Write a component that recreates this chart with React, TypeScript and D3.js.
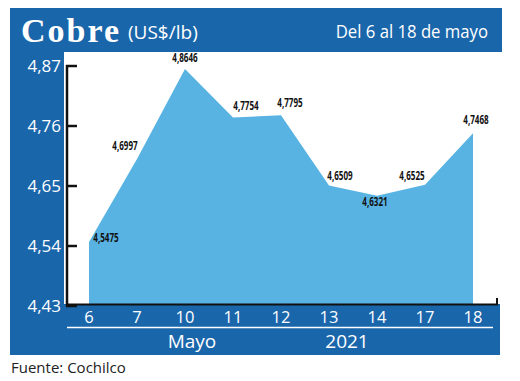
import React from "react";
import * as d3 from "d3";

const days = ["6", "7", "10", "11", "12", "13", "14", "17", "18"];
const prices = [4.5475, 4.6997, 4.8646, 4.7754, 4.7795, 4.6509, 4.6321, 4.6525, 4.7468];
const priceLabels = ["4,5475", "4,6997", "4,8646", "4,7754", "4,7795", "4,6509", "4,6321", "4,6525", "4,7468"];
const yTicks = [4.43, 4.54, 4.65, 4.76, 4.87];
const yTickLabels = ["4,43", "4,54", "4,65", "4,76", "4,87"];
const title = "Cobre";
const unit = "(US$/lb)";
const period = "Del 6 al 18 de mayo";
const monthLabel = "Mayo";
const yearLabel = "2021";
const source = "Fuente: Cochilco";

// layout-only label offsets (dx, dy) relative to each point
const labelOffsets: [number, number][] = [
  [17, 0], [-12, -9], [0, -7], [13, -8], [9, -8], [11, -6], [-2, 10], [-13, -5], [3, -9],
];

const BLUE = "#1a66ab";
const AREA = "#58b3e3";
const SANS = "'Open Sans', 'Noto Sans', sans-serif";

export default function App() {
  const W = 520, H = 381;
  const x = d3.scalePoint<string>().domain(days).range([89, 473]);
  const y = d3.scaleLinear().domain([4.43, 4.87]).range([306, 66]);
  const area = d3
    .area<number>()
    .x((_, i) => x(days[i]) as number)
    .y0(y(4.43))
    .y1((d) => y(d));

  return (
    <svg width={W} height={H} style={{ position: "absolute", left: 0, top: 0 }}>
      <rect x={0} y={0} width={W} height={H} fill="#fff" />
      {/* header band */}
      <rect x={10} y={8} width={492} height={44} fill={BLUE} />
      {/* left band */}
      <rect x={10} y={8} width={54} height={347} fill={BLUE} />
      <text x={21} y={42} fill="#fff" fontFamily="'Liberation Serif', 'DejaVu Serif', serif" fontWeight="bold" fontSize={34} letterSpacing={2}>
        {title}
      </text>
      <text x={128} y={39} fill="#fff" fontFamily={SANS} fontSize={19}>
        {unit}
      </text>
      <g transform="translate(488,38) scale(0.88,1)">
        <text x={0} y={0} fill="#fff" fontFamily={SANS} fontSize={19} textAnchor="end">
          {period}
        </text>
      </g>

      {/* area */}
      <path d={area(prices) || ""} fill={AREA} />

      {/* bottom band */}
      <rect x={10} y={304} width={490} height={51} fill={BLUE} />

      {/* axes */}
      <line x1={67} x2={67} y1={65} y2={306} stroke="#111" strokeWidth={2.5} />
      <path d={`M66,304.5H497V298`} fill="none" stroke="#111" strokeWidth={2} />
      {yTicks.map((t, i) => (
        <g key={t}>
          <line x1={66} x2={77} y1={y(t)} y2={y(t)} stroke="#111" strokeWidth={2.5} />
          <text x={61} y={y(t) + 6} fill="#fff" fontFamily={SANS} fontSize={17} textAnchor="end">
            {yTickLabels[i]}
          </text>
        </g>
      ))}
      {days.map((d) => (
        <text key={d} x={x(d)} y={323} fill="#fff" fontFamily={SANS} fontSize={16.5} textAnchor="middle">
          {d}
        </text>
      ))}
      <line x1={67} x2={493} y1={327.5} y2={327.5} stroke="#fff" strokeWidth={1.5} />
      <text x={192} y={348} fill="#fff" fontFamily={SANS} fontSize={19} textAnchor="middle">
        {monthLabel}
      </text>
      <text x={347} y={348} fill="#fff" fontFamily={SANS} fontSize={19} textAnchor="middle">
        {yearLabel}
      </text>

      {/* data labels */}
      {prices.map((p, i) => (
        <g
          key={i}
          transform={`translate(${(x(days[i]) as number) + labelOffsets[i][0]},${y(p) + labelOffsets[i][1]}) scale(0.7,1)`}
        >
          <text x={0} y={0} fill="#111" fontFamily={SANS} fontWeight="bold" fontSize={11.5} textAnchor="middle">
            {priceLabels[i]}
          </text>
        </g>
      ))}

      <text x={11} y={373} fill="#222" fontFamily={SANS} fontSize={15}>
        {source}
      </text>
    </svg>
  );
}
